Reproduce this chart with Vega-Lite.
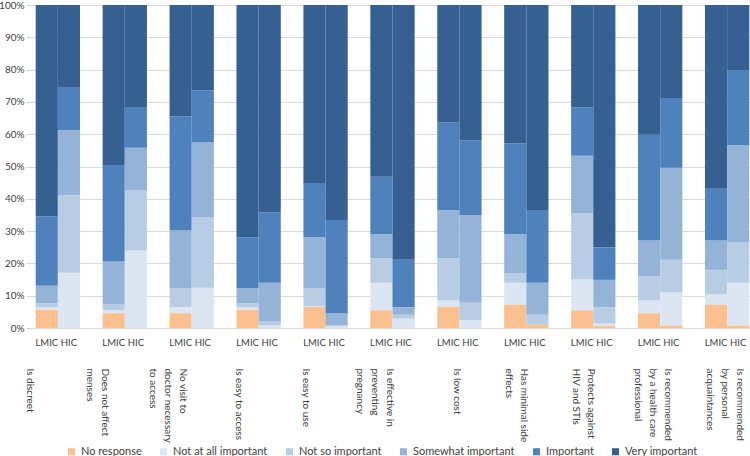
{
  "$schema": "https://vega.github.io/schema/vega-lite/v6.json",
  "width": 724,
  "height": 323,
  "autosize": {"type": "none"},
  "padding": {"left": 26, "top": 5, "right": 0, "bottom": 128},
  "background": "white",
  "config": {
    "view": {"stroke": null},
    "font": "Lato",
    "axis": {"labelColor": "#404040", "labelFont": "Lato"},
    "legend": {"labelColor": "#404040", "labelFont": "Lato"}
  },
  "data": {
    "values": [
      {"criterion": "Is discreet", "region": "LMIC", "response": "No response", "pct": 5.7},
      {"criterion": "Is discreet", "region": "LMIC", "response": "Not at all important", "pct": 0.7},
      {"criterion": "Is discreet", "region": "LMIC", "response": "Not so important", "pct": 1.2},
      {"criterion": "Is discreet", "region": "LMIC", "response": "Somewhat important", "pct": 5.5},
      {"criterion": "Is discreet", "region": "LMIC", "response": "Important", "pct": 21.5},
      {"criterion": "Is discreet", "region": "LMIC", "response": "Very important", "pct": 65.4},
      {"criterion": "Is discreet", "region": "HIC", "response": "No response", "pct": 0},
      {"criterion": "Is discreet", "region": "HIC", "response": "Not at all important", "pct": 17.1},
      {"criterion": "Is discreet", "region": "HIC", "response": "Not so important", "pct": 24.0},
      {"criterion": "Is discreet", "region": "HIC", "response": "Somewhat important", "pct": 20.1},
      {"criterion": "Is discreet", "region": "HIC", "response": "Important", "pct": 13.2},
      {"criterion": "Is discreet", "region": "HIC", "response": "Very important", "pct": 25.6},

      {"criterion": "Does not affect menses", "region": "LMIC", "response": "No response", "pct": 4.6},
      {"criterion": "Does not affect menses", "region": "LMIC", "response": "Not at all important", "pct": 0.9},
      {"criterion": "Does not affect menses", "region": "LMIC", "response": "Not so important", "pct": 1.8},
      {"criterion": "Does not affect menses", "region": "LMIC", "response": "Somewhat important", "pct": 13.3},
      {"criterion": "Does not affect menses", "region": "LMIC", "response": "Important", "pct": 29.9},
      {"criterion": "Does not affect menses", "region": "LMIC", "response": "Very important", "pct": 49.5},
      {"criterion": "Does not affect menses", "region": "HIC", "response": "No response", "pct": 0},
      {"criterion": "Does not affect menses", "region": "HIC", "response": "Not at all important", "pct": 24.0},
      {"criterion": "Does not affect menses", "region": "HIC", "response": "Not so important", "pct": 18.7},
      {"criterion": "Does not affect menses", "region": "HIC", "response": "Somewhat important", "pct": 13.1},
      {"criterion": "Does not affect menses", "region": "HIC", "response": "Important", "pct": 12.4},
      {"criterion": "Does not affect menses", "region": "HIC", "response": "Very important", "pct": 31.8},

      {"criterion": "No visit to doctor necessary to access", "region": "LMIC", "response": "No response", "pct": 4.6},
      {"criterion": "No visit to doctor necessary to access", "region": "LMIC", "response": "Not at all important", "pct": 1.9},
      {"criterion": "No visit to doctor necessary to access", "region": "LMIC", "response": "Not so important", "pct": 5.8},
      {"criterion": "No visit to doctor necessary to access", "region": "LMIC", "response": "Somewhat important", "pct": 17.9},
      {"criterion": "No visit to doctor necessary to access", "region": "LMIC", "response": "Important", "pct": 35.3},
      {"criterion": "No visit to doctor necessary to access", "region": "LMIC", "response": "Very important", "pct": 34.5},
      {"criterion": "No visit to doctor necessary to access", "region": "HIC", "response": "No response", "pct": 0},
      {"criterion": "No visit to doctor necessary to access", "region": "HIC", "response": "Not at all important", "pct": 12.5},
      {"criterion": "No visit to doctor necessary to access", "region": "HIC", "response": "Not so important", "pct": 21.7},
      {"criterion": "No visit to doctor necessary to access", "region": "HIC", "response": "Somewhat important", "pct": 23.2},
      {"criterion": "No visit to doctor necessary to access", "region": "HIC", "response": "Important", "pct": 16.2},
      {"criterion": "No visit to doctor necessary to access", "region": "HIC", "response": "Very important", "pct": 26.4},

      {"criterion": "Is easy to access", "region": "LMIC", "response": "No response", "pct": 5.7},
      {"criterion": "Is easy to access", "region": "LMIC", "response": "Not at all important", "pct": 0.7},
      {"criterion": "Is easy to access", "region": "LMIC", "response": "Not so important", "pct": 1.2},
      {"criterion": "Is easy to access", "region": "LMIC", "response": "Somewhat important", "pct": 4.7},
      {"criterion": "Is easy to access", "region": "LMIC", "response": "Important", "pct": 15.8},
      {"criterion": "Is easy to access", "region": "LMIC", "response": "Very important", "pct": 71.9},
      {"criterion": "Is easy to access", "region": "HIC", "response": "No response", "pct": 0},
      {"criterion": "Is easy to access", "region": "HIC", "response": "Not at all important", "pct": 0.8},
      {"criterion": "Is easy to access", "region": "HIC", "response": "Not so important", "pct": 1.2},
      {"criterion": "Is easy to access", "region": "HIC", "response": "Somewhat important", "pct": 12.0},
      {"criterion": "Is easy to access", "region": "HIC", "response": "Important", "pct": 21.8},
      {"criterion": "Is easy to access", "region": "HIC", "response": "Very important", "pct": 64.2},

      {"criterion": "Is easy to use", "region": "LMIC", "response": "No response", "pct": 6.5},
      {"criterion": "Is easy to use", "region": "LMIC", "response": "Not at all important", "pct": 0.3},
      {"criterion": "Is easy to use", "region": "LMIC", "response": "Not so important", "pct": 5.5},
      {"criterion": "Is easy to use", "region": "LMIC", "response": "Somewhat important", "pct": 15.8},
      {"criterion": "Is easy to use", "region": "LMIC", "response": "Important", "pct": 16.8},
      {"criterion": "Is easy to use", "region": "LMIC", "response": "Very important", "pct": 55.1},
      {"criterion": "Is easy to use", "region": "HIC", "response": "No response", "pct": 0},
      {"criterion": "Is easy to use", "region": "HIC", "response": "Not at all important", "pct": 0.5},
      {"criterion": "Is easy to use", "region": "HIC", "response": "Not so important", "pct": 0.3},
      {"criterion": "Is easy to use", "region": "HIC", "response": "Somewhat important", "pct": 3.8},
      {"criterion": "Is easy to use", "region": "HIC", "response": "Important", "pct": 28.8},
      {"criterion": "Is easy to use", "region": "HIC", "response": "Very important", "pct": 66.6},

      {"criterion": "Is effective in preventing pregnancy", "region": "LMIC", "response": "No response", "pct": 5.5},
      {"criterion": "Is effective in preventing pregnancy", "region": "LMIC", "response": "Not at all important", "pct": 8.5},
      {"criterion": "Is effective in preventing pregnancy", "region": "LMIC", "response": "Not so important", "pct": 7.6},
      {"criterion": "Is effective in preventing pregnancy", "region": "LMIC", "response": "Somewhat important", "pct": 7.5},
      {"criterion": "Is effective in preventing pregnancy", "region": "LMIC", "response": "Important", "pct": 17.7},
      {"criterion": "Is effective in preventing pregnancy", "region": "LMIC", "response": "Very important", "pct": 53.2},
      {"criterion": "Is effective in preventing pregnancy", "region": "HIC", "response": "No response", "pct": 0},
      {"criterion": "Is effective in preventing pregnancy", "region": "HIC", "response": "Not at all important", "pct": 2.9},
      {"criterion": "Is effective in preventing pregnancy", "region": "HIC", "response": "Not so important", "pct": 1.2},
      {"criterion": "Is effective in preventing pregnancy", "region": "HIC", "response": "Somewhat important", "pct": 2.3},
      {"criterion": "Is effective in preventing pregnancy", "region": "HIC", "response": "Important", "pct": 14.7},
      {"criterion": "Is effective in preventing pregnancy", "region": "HIC", "response": "Very important", "pct": 78.9},

      {"criterion": "Is low cost", "region": "LMIC", "response": "No response", "pct": 6.5},
      {"criterion": "Is low cost", "region": "LMIC", "response": "Not at all important", "pct": 2.0},
      {"criterion": "Is low cost", "region": "LMIC", "response": "Not so important", "pct": 13.1},
      {"criterion": "Is low cost", "region": "LMIC", "response": "Somewhat important", "pct": 14.9},
      {"criterion": "Is low cost", "region": "LMIC", "response": "Important", "pct": 27.1},
      {"criterion": "Is low cost", "region": "LMIC", "response": "Very important", "pct": 36.4},
      {"criterion": "Is low cost", "region": "HIC", "response": "No response", "pct": 0},
      {"criterion": "Is low cost", "region": "HIC", "response": "Not at all important", "pct": 2.4},
      {"criterion": "Is low cost", "region": "HIC", "response": "Not so important", "pct": 5.4},
      {"criterion": "Is low cost", "region": "HIC", "response": "Somewhat important", "pct": 27.1},
      {"criterion": "Is low cost", "region": "HIC", "response": "Important", "pct": 23.2},
      {"criterion": "Is low cost", "region": "HIC", "response": "Very important", "pct": 41.9},

      {"criterion": "Has minimal side effects", "region": "LMIC", "response": "No response", "pct": 7.3},
      {"criterion": "Has minimal side effects", "region": "LMIC", "response": "Not at all important", "pct": 6.7},
      {"criterion": "Has minimal side effects", "region": "LMIC", "response": "Not so important", "pct": 2.9},
      {"criterion": "Has minimal side effects", "region": "LMIC", "response": "Somewhat important", "pct": 12.2},
      {"criterion": "Has minimal side effects", "region": "LMIC", "response": "Important", "pct": 28.0},
      {"criterion": "Has minimal side effects", "region": "LMIC", "response": "Very important", "pct": 42.9},
      {"criterion": "Has minimal side effects", "region": "HIC", "response": "No response", "pct": 1.0},
      {"criterion": "Has minimal side effects", "region": "HIC", "response": "Not at all important", "pct": 0},
      {"criterion": "Has minimal side effects", "region": "HIC", "response": "Not so important", "pct": 3.1},
      {"criterion": "Has minimal side effects", "region": "HIC", "response": "Somewhat important", "pct": 9.9},
      {"criterion": "Has minimal side effects", "region": "HIC", "response": "Important", "pct": 22.5},
      {"criterion": "Has minimal side effects", "region": "HIC", "response": "Very important", "pct": 63.5},

      {"criterion": "Protects against HIV and STIs", "region": "LMIC", "response": "No response", "pct": 5.5},
      {"criterion": "Protects against HIV and STIs", "region": "LMIC", "response": "Not at all important", "pct": 9.6},
      {"criterion": "Protects against HIV and STIs", "region": "LMIC", "response": "Not so important", "pct": 20.5},
      {"criterion": "Protects against HIV and STIs", "region": "LMIC", "response": "Somewhat important", "pct": 17.7},
      {"criterion": "Protects against HIV and STIs", "region": "LMIC", "response": "Important", "pct": 15.0},
      {"criterion": "Protects against HIV and STIs", "region": "LMIC", "response": "Very important", "pct": 31.7},
      {"criterion": "Protects against HIV and STIs", "region": "HIC", "response": "No response", "pct": 0.6},
      {"criterion": "Protects against HIV and STIs", "region": "HIC", "response": "Not at all important", "pct": 0.8},
      {"criterion": "Protects against HIV and STIs", "region": "HIC", "response": "Not so important", "pct": 5.0},
      {"criterion": "Protects against HIV and STIs", "region": "HIC", "response": "Somewhat important", "pct": 8.5},
      {"criterion": "Protects against HIV and STIs", "region": "HIC", "response": "Important", "pct": 10.0},
      {"criterion": "Protects against HIV and STIs", "region": "HIC", "response": "Very important", "pct": 75.1},

      {"criterion": "Is recommended by a health care professional", "region": "LMIC", "response": "No response", "pct": 4.6},
      {"criterion": "Is recommended by a health care professional", "region": "LMIC", "response": "Not at all important", "pct": 3.9},
      {"criterion": "Is recommended by a health care professional", "region": "LMIC", "response": "Not so important", "pct": 7.6},
      {"criterion": "Is recommended by a health care professional", "region": "LMIC", "response": "Somewhat important", "pct": 11.1},
      {"criterion": "Is recommended by a health care professional", "region": "LMIC", "response": "Important", "pct": 32.6},
      {"criterion": "Is recommended by a health care professional", "region": "LMIC", "response": "Very important", "pct": 40.2},
      {"criterion": "Is recommended by a health care professional", "region": "HIC", "response": "No response", "pct": 0.8},
      {"criterion": "Is recommended by a health care professional", "region": "HIC", "response": "Not at all important", "pct": 10.2},
      {"criterion": "Is recommended by a health care professional", "region": "HIC", "response": "Not so important", "pct": 10.1},
      {"criterion": "Is recommended by a health care professional", "region": "HIC", "response": "Somewhat important", "pct": 28.5},
      {"criterion": "Is recommended by a health care professional", "region": "HIC", "response": "Important", "pct": 21.6},
      {"criterion": "Is recommended by a health care professional", "region": "HIC", "response": "Very important", "pct": 28.8},

      {"criterion": "Is recommended by personal acquaintances", "region": "LMIC", "response": "No response", "pct": 7.3},
      {"criterion": "Is recommended by personal acquaintances", "region": "LMIC", "response": "Not at all important", "pct": 3.1},
      {"criterion": "Is recommended by personal acquaintances", "region": "LMIC", "response": "Not so important", "pct": 7.6},
      {"criterion": "Is recommended by personal acquaintances", "region": "LMIC", "response": "Somewhat important", "pct": 9.2},
      {"criterion": "Is recommended by personal acquaintances", "region": "LMIC", "response": "Important", "pct": 15.9},
      {"criterion": "Is recommended by personal acquaintances", "region": "LMIC", "response": "Very important", "pct": 56.9},
      {"criterion": "Is recommended by personal acquaintances", "region": "HIC", "response": "No response", "pct": 0.8},
      {"criterion": "Is recommended by personal acquaintances", "region": "HIC", "response": "Not at all important", "pct": 13.2},
      {"criterion": "Is recommended by personal acquaintances", "region": "HIC", "response": "Not so important", "pct": 12.5},
      {"criterion": "Is recommended by personal acquaintances", "region": "HIC", "response": "Somewhat important", "pct": 30.1},
      {"criterion": "Is recommended by personal acquaintances", "region": "HIC", "response": "Important", "pct": 23.3},
      {"criterion": "Is recommended by personal acquaintances", "region": "HIC", "response": "Very important", "pct": 20.1}
    ]
  },
  "encoding": {
    "x": {
      "field": "criterion",
      "type": "nominal",
      "sort": null,
      "title": null,
      "scale": {"paddingInner": 0.338, "paddingOuter": 0.078, "align": 0.93},
      "axis": {
        "domain": false,
        "ticks": false,
        "tickSize": 0,
        "labelAngle": 90,
        "labelAlign": "left",
        "labelBaseline": "middle",
        "labelPadding": 40,
        "labelFontSize": 10,
        "labelLineHeight": 15,
        "labelLimit": 0,
        "labelOffset": {
          "condition": [
            {"test": "datum.value == 'Is discreet'", "value": -28},
            {"test": "indexof(['Does not affect menses', 'Is easy to access', 'Is easy to use'], datum.value) >= 0", "value": -20},
            {"test": "datum.value == 'No visit to doctor necessary to access'", "value": -9},
            {"test": "datum.value == 'Is recommended by a health care professional'", "value": 8},
            {"test": "datum.value == 'Is recommended by personal acquaintances'", "value": 13}
          ],
          "value": -2
        },
        "labelExpr": "{'Does not affect menses': ['Does not affect', 'menses'], 'No visit to doctor necessary to access': ['No visit to', 'doctor necessary', 'to access'], 'Is effective in preventing pregnancy': ['Is effective in', 'preventing', 'pregnancy'], 'Has minimal side effects': ['Has minimal side', 'effects'], 'Protects against HIV and STIs': ['Protects against', 'HIV and STIs'], 'Is recommended by a health care professional': ['Is recommended', 'by a health care', 'professional'], 'Is recommended by personal acquaintances': ['Is recommended', 'by personal', 'acquaintances']}[datum.value] || datum.value"
      }
    },
    "xOffset": {
      "field": "region",
      "type": "nominal",
      "sort": ["LMIC", "HIC"],
      "scale": {"paddingInner": 0, "paddingOuter": 0}
    },
    "y": {
      "field": "pct",
      "type": "quantitative",
      "stack": "normalize",
      "title": null,
      "scale": {"domain": [0, 1]},
      "axis": {
        "format": ".0%",
        "values": [0, 0.1, 0.2, 0.3, 0.4, 0.5, 0.6, 0.7, 0.8, 0.9, 1],
        "labelOverlap": false,
        "domain": false,
        "ticks": false,
        "labelPadding": 2,
        "labelFontSize": 10,
        "gridColor": "#d9d9d9",
        "gridWidth": 1
      }
    }
  },
  "layer": [
    {
      "transform": [
        {"calculate": "indexof(['No response', 'Not at all important', 'Not so important', 'Somewhat important', 'Important', 'Very important'], datum.response)", "as": "level"}
      ],
      "mark": {"type": "bar"},
      "encoding": {
        "order": {"field": "level", "type": "quantitative", "sort": "ascending"},
        "color": {
          "field": "response",
          "type": "nominal",
          "scale": {
            "domain": ["No response", "Not at all important", "Not so important", "Somewhat important", "Important", "Very important"],
            "range": ["#fac090", "#dce6f2", "#b8cce4", "#95b3d7", "#4f81bd", "#366092"]
          },
          "legend": {
            "title": null,
            "orient": "none",
            "direction": "horizontal",
            "legendX": 40,
            "legendY": 441,
            "symbolType": "square",
            "symbolSize": 50,
            "symbolStrokeWidth": 0,
            "labelFontSize": 11,
            "labelOffset": 4,
            "columnPadding": 16
          }
        }
      }
    },
    {
      "transform": [{"filter": "datum.response == 'No response'"}],
      "mark": {"type": "text", "fontSize": 9.5, "baseline": "middle", "color": "#404040"},
      "encoding": {
        "y": {"datum": -0.047, "type": "quantitative"},
        "text": {"field": "region"}
      }
    }
  ]
}
